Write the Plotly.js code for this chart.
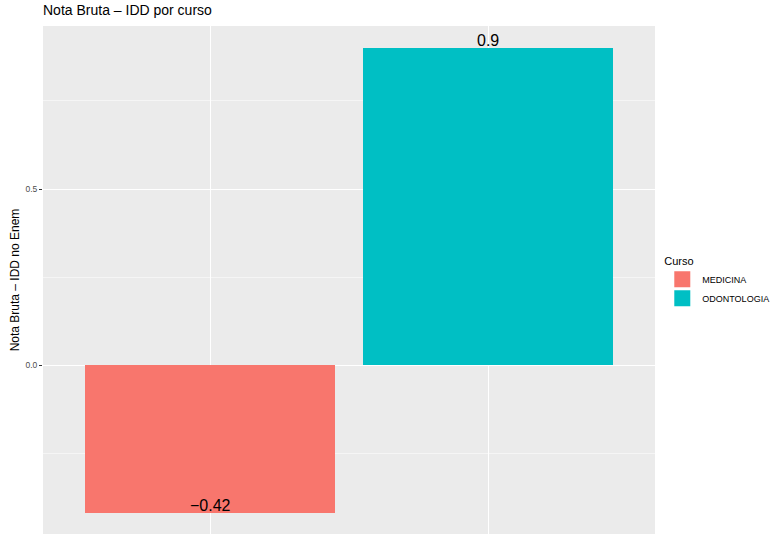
<!DOCTYPE html>
<html>
<head>
<meta charset="utf-8">
<script src="https://cdn.plot.ly/plotly-3.0.1.min.js"></script>
<style>html,body{margin:0;padding:0;background:#fff}#chart{width:771px;height:534px}</style>
</head>
<body>
<div id="chart"></div>
<script>
var categories = ["MEDICINA", "ODONTOLOGIA"];
var values = [-0.42, 0.9];
var labels = ["\u22120.42", "0.9"];
var colors = ["#F8766D", "#00BFC4"];
var yTickVals = [0, 0.5];
var yTickText = ["0.0", "0.5"];

var FONT = "Liberation Sans, Arial, sans-serif";

var traces = categories.map(function (c, i) {
  return {
    type: "bar",
    name: c,
    x: [i],
    y: [values[i]],
    width: 0.9,
    marker: { color: colors[i], line: { width: 0 } },
    hoverinfo: "none",
    showlegend: false
  };
});
// legend keys
categories.forEach(function (c, i) {
  traces.push({
    type: "scatter",
    mode: "markers",
    name: c,
    x: [null],
    y: [null],
    marker: { symbol: "square", size: 16, color: colors[i], line: { width: 0 } },
    showlegend: true
  });
});

var annotations = categories.map(function (c, i) {
  return {
    x: i, y: values[i], xref: "x", yref: "y",
    text: labels[i], showarrow: false,
    yanchor: "bottom", xanchor: "center",
    yshift: -3,
    font: { family: FONT, size: 16, color: "#000" }
  };
});

var layout = {
  width: 771, height: 534,
  margin: { l: 43, r: 116, t: 26, b: 0, pad: 0 },
  paper_bgcolor: "#FFFFFF",
  plot_bgcolor: "#EBEBEB",
  font: { family: FONT, color: "#000" },
  title: {
    text: "Nota Bruta \u2013 IDD por curso",
    font: { family: FONT, size: 14, color: "#000" },
    x: 0, xref: "paper", xanchor: "left",
    y: 1, yref: "container", yanchor: "top", pad: { t: 5 }
  },
  bargap: 0,
  xaxis: {
    range: [-0.6007, 1.6007],
    tickvals: [0, 1],
    showticklabels: false,
    ticks: "",
    showgrid: true, gridcolor: "#FFFFFF", gridwidth: 1,
    zeroline: false, showline: false, fixedrange: true
  },
  yaxis: {
    range: [-0.480, 0.963],
    tickvals: yTickVals,
    ticktext: yTickText,
    ticks: "outside", ticklen: 3, tickwidth: 1, tickcolor: "#333333",
    tickfont: { family: FONT, size: 8.5, color: "#4D4D4D" },
    showgrid: true, gridcolor: "#FFFFFF", gridwidth: 1,
    minor: { tickvals: [-0.25, 0.25, 0.75], showgrid: true, gridcolor: "#FFFFFF", gridwidth: 0.5, ticks: "" },
    zeroline: false, showline: false, fixedrange: true,
    automargin: false,
    title: {
      text: "Nota Bruta \u2013 IDD no Enem",
      font: { family: FONT, size: 12, color: "#000" },
      standoff: 3
    }
  },
  legend: {
    xref: "container", yref: "container",
    x: 0.859, xanchor: "left", y: 0.531, yanchor: "top",
    bgcolor: "rgba(0,0,0,0)",
    title: { text: "Curso", font: { family: FONT, size: 11, color: "#000" } },
    font: { family: FONT, size: 9, color: "#000" },
    tracegroupgap: 0, itemwidth: 30
  },
  annotations: annotations,
  showlegend: true
};

Plotly.newPlot("chart", traces, layout, { displayModeBar: false, staticPlot: true });
</script>
</body>
</html>
